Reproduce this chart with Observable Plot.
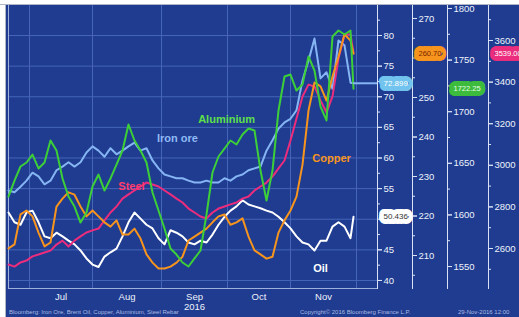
<!DOCTYPE html>
<html>
<head>
<meta charset="utf-8">
<script src="https://cdn.jsdelivr.net/npm/d3@7"></script>
<script src="https://cdn.jsdelivr.net/npm/@observablehq/plot@0.6"></script>
<style>
  html, body { margin: 0; padding: 0; background: #ffffff; width: 519px; height: 317px; overflow: hidden; }
  #wrap { position: relative; width: 519px; height: 317px; background: #1f3c90; overflow: hidden; }
  #wrap svg { position: absolute; left: 0; top: 0; }
  .edge-left { position: absolute; left: 0; top: 0; width: 5px; height: 317px; background: #ffffff; border-right: 1px solid #aeb6c8; }
  .edge-top { position: absolute; left: 0; top: 0; width: 519px; height: 4px; background: #ffffff; border-bottom: 1px solid #aeb6c8; }
  .foot { position: absolute; top: 309px; font: 6px "Liberation Sans", Arial, sans-serif; color: #aebbe0; white-space: nowrap; }
</style>
</head>
<body>
<div id="wrap">
  <div id="chart"></div>
  <div class="edge-left"></div>
  <div class="edge-top"></div>
  <div class="foot" style="left:9px">Bloomberg: Iron Ore, Brent Oil, Copper, Aluminium, Steel Rebar</div>
  <div class="foot" style="left:300px">Copyright© 2016 Bloomberg Finance L.P.</div>
  <div class="foot" style="left:458px">29-Nov-2016 12:00</div>
</div>
<script>
// ---- data (sampled every second trading day from 22 Jun 2016) ----
const tradingDay = [0,2,4,6,8,10,12,14,16,18,20,22,24,26,28,30,32,34,36,38,40,42,44,46,48,50,52,54,56,58,60,62,64,66,68,70,72,74,76,78,80,82,84,86,88,90,92,94,96,98,100,102,104,106,108,110,112,114,115];

const ironOre = [54.7,54.4,55.3,56.3,57.6,57.0,55.7,56.3,58.0,58.6,
  59.3,58.6,59.3,60.9,61.9,61.2,60.2,61.6,60.6,61.2,
  61.9,62.5,61.2,61.6,59.6,58.3,57.3,57.0,56.7,56.7,
  56.3,56.0,56.0,56.3,56.0,56.0,56.7,56.3,57.0,57.3,
  58.0,58.3,58.6,61.2,62.9,64.8,65.8,66.4,67.8,72.7,
  75.9,79.5,73.0,74.0,71.3,79.2,78.4,72.3,72.2];

const oil = [51.1,49.5,49.1,51.1,51.4,49.5,47.2,46.9,47.8,47.2,
  46.5,45.9,44.9,43.6,42.6,42.2,43.9,44.6,45.2,47.2,
  49.5,51.1,50.1,49.1,48.5,46.9,45.9,48.2,47.8,47.2,
  46.2,45.9,46.5,46.2,47.5,49.1,50.4,51.4,52.1,53.1,
  52.4,52.1,51.8,51.4,51.1,50.4,49.5,48.5,47.2,46.2,
  45.9,44.9,46.5,46.5,48.8,49.5,48.8,46.9,50.4];

const copper = [211.8,212.8,220.4,221.4,219.9,215.8,212.3,213.3,222.4,224.4,
  226.0,225.4,222.4,219.9,221.4,219.9,218.4,217.3,218.9,215.3,
  215.3,216.8,214.3,210.3,208.2,206.7,206.7,207.2,208.2,209.7,
  213.8,214.8,215.8,216.8,218.4,219.9,220.4,217.8,218.4,219.4,
  214.8,211.3,210.3,209.2,209.7,215.8,218.9,221.4,224.9,233.0,
  246.7,253.8,252.8,249.2,255.3,260.4,266.0,264.4,261.1];

const aluminium = [1617.8,1633.3,1646.9,1650.8,1658.5,1645.0,1650.8,1672.1,1662.4,1635.3,
  1617.8,1608.1,1592.6,1602.3,1627.5,1639.1,1623.6,1635.3,1648.8,1662.4,
  1687.6,1672.1,1662.4,1650.8,1621.7,1604.3,1586.8,1567.4,1561.6,1553.9,
  1550.0,1557.8,1565.5,1600.4,1641.1,1656.6,1664.3,1672.1,1668.2,1677.9,
  1683.7,1681.8,1643.0,1614.0,1643.0,1701.2,1734.1,1736.0,1720.5,1726.4,
  1753.5,1739.9,1705.0,1691.5,1772.9,1778.7,1774.8,1778.7,1722.25];

const steel = [2523,2513,2533,2542,2562,2571,2581,2590,2619,2638,
  2610,2638,2658,2677,2687,2696,2735,2773,2802,2840,
  2860,2879,2898,2917,2908,2898,2879,2860,2840,2821,
  2792,2773,2754,2744,2773,2792,2802,2812,2821,2840,
  2850,2879,2898,2917,2946,2985,3023,3119,3225,3331,
  3388,3379,3312,3254,3331,3513,3629,3629,3539];

const lastLabels = { iron: "72.899", oil: "50.436", copper: "260.70", aluminium: "1722.25", steel: "3539.00" };

// axis ranges (value at bottom, value at top of plot frame)
const usdDomain = [38.69, 84.9];
const copperDomain = [201.65, 273.29];
const aluminiumDomain = [1528.7, 1802.9];
const steelDomain = [2407.7, 3768.3];

// tick values; labels hidden behind a value box are listed separately
const usdTicks = [40,45,50,55,60,65,70,75,80];
const usdHidden = [50];
const usdMinor = [42.5,47.5,52.5,57.5,62.5,67.5,72.5,77.5,82.5];
const copperTicks = [210,220,230,240,250,260,270];
const copperHidden = [260];
const copperMinor = [205,215,225,235,245,255,265];
const aluminiumTicks = [1550,1600,1650,1700,1750,1800];
const aluminiumHidden = [];
const aluminiumMinor = [1575,1625,1675,1725,1775];
const steelTicks = [2600,2800,3000,3200,3400,3600];
const steelHidden = [];
const steelMinor = [2500,2700,2900,3100,3300,3500,3700];

const monthNames = ["Jul","Aug","Sep\n2016","Oct","Nov"];

const seriesNames = ["Oil","Iron ore","Steel","Copper","Aluminium"];
const seriesColors = ["#ffffff","#86b5f4","#ec2c7c","#f7941d","#3ccf38"];
// in-chart name labels: [trading day, value on US$ axis]
const nameLabels = [
  {name: "Iron ore", day: 56.3, v: 63.2, color: "#8fbaf5"},
  {name: "Aluminium", day: 72.7, v: 66.3, color: "#5ee04a"},
  {name: "Steel", day: 41, v: 55.35, color: "#ff3b6e"},
  {name: "Copper", day: 107.7, v: 59.9, color: "#f7941d"},
  {name: "Oil", day: 104, v: 41.96, color: "#ffffff"}
];

// ---- trading-day calendar ----
const calendar = [];
for (let d = new Date(2016, 5, 22); d <= new Date(2016, 11, 31); d.setDate(d.getDate() + 1)) {
  const w = d.getDay();
  if (w !== 0 && w !== 6) calendar.push(new Date(d));
}
const monthStarts = [];
for (let i = 1; i < calendar.length; i++) if (calendar[i].getMonth() !== calendar[i - 1].getMonth()) monthStarts.push(i);
const monthMids = monthNames.map((_, i) => (monthStarts[i] + monthStarts[i + 1]) / 2);
const monthMap = new Map(monthMids.map((m, i) => [m, monthNames[i]]));

// ---- scale helpers mapping each axis onto the shared US$ y scale ----
const toUsd = dom => d3.scaleLinear().domain(dom).range(usdDomain);
const sCopper = toUsd(copperDomain), sAlu = toUsd(aluminiumDomain), sSteel = toUsd(steelDomain);
const ident = d3.scaleLinear().domain(usdDomain).range(usdDomain);

const series = [
  {name: "Oil", values: oil, s: ident},
  {name: "Iron ore", values: ironOre, s: ident},
  {name: "Steel", values: steel, s: sSteel},
  {name: "Copper", values: copper, s: sCopper},
  {name: "Aluminium", values: aluminium, s: sAlu}
];
const rows = [];
for (const sr of series) tradingDay.forEach((d, i) => rows.push({series: sr.name, day: d, y: sr.s(sr.values[i])}));

const lastDay = tradingDay[tradingDay.length - 1];
const last = arr => arr[arr.length - 1];

const axisColor = "#d9e1f4";
const gridColor = "#4565b8";
const font = "'Liberation Sans', Arial, sans-serif";

function sideAxis(scale, ticks, hidden, minor, dx) {
  return [
    Plot.frame({anchor: "right", stroke: axisColor, dx}),
    Plot.axisY(minor.map(scale), {anchor: "right", dx, tickSize: 2, stroke: axisColor, tickFormat: () => ""}),
    Plot.axisY(ticks.map(scale), {anchor: "right", dx, tickSize: 4, stroke: axisColor, tickFormat: () => ""}),
    Plot.axisY(ticks.filter(t => !hidden.includes(t)).map(scale), {anchor: "right", dx, tickSize: 4, tickPadding: 2,
      stroke: axisColor, fill: "#eef2fb", fontSize: 9.5, tickFormat: d => String(Math.round(scale.invert(d)))})
  ];
}

function valueLabel(value, text, dx, bg, fg, size) {
  return Plot.text([{y: value, t: text}], {
    frameAnchor: "right", y: "y", text: "t", dx, textAnchor: "start",
    fill: fg, stroke: bg, strokeWidth: 10, strokeLinejoin: "round", paintOrder: "stroke",
    fontSize: size, fontFamily: font
  });
}

const chart = Plot.plot({
  width: 519, height: 317,
  marginLeft: 8, marginRight: 142, marginTop: 5, marginBottom: 29,
  style: {background: "transparent", color: "#eef2fb", fontFamily: font, fontSize: "9.5px"},
  x: {domain: [0, 123], axis: null, label: null},
  y: {domain: usdDomain, axis: null, label: null},
  color: {domain: seriesNames, range: seriesColors},
  marks: [
    Plot.gridY(usdTicks, {stroke: gridColor, strokeOpacity: 1}),
    Plot.gridX(monthStarts, {stroke: gridColor, strokeOpacity: 1}),
    Plot.frame({anchor: "left", stroke: "#9fb0dc"}),
    Plot.frame({anchor: "bottom", stroke: "#9fb0dc"}),
    Plot.axisX(monthMids, {anchor: "bottom", label: null, tickSize: 0, tickPadding: 4, fontSize: 9.5, lineHeight: 1.05,
      tickFormat: d => monthMap.get(d)}),
    Plot.line(rows, {x: "day", y: "y", z: "series", stroke: "series", strokeWidth: 2, strokeLinejoin: "round"}),
    Plot.ruleY([last(ironOre)], {x1: lastDay, x2: 123, stroke: "#86b5f4", strokeWidth: 2}),
    Plot.text(nameLabels, {x: "day", y: "v", text: "name", fill: "color", fontWeight: "bold", fontSize: 11, fontFamily: font}),
    ...sideAxis(ident, usdTicks, usdHidden, usdMinor, 0),
    ...sideAxis(sCopper, copperTicks, copperHidden, copperMinor, 35),
    ...sideAxis(sAlu, aluminiumTicks, aluminiumHidden, aluminiumMinor, 70),
    ...sideAxis(sSteel, steelTicks, steelHidden, steelMinor, 111),
    valueLabel(last(ironOre), lastLabels.iron, 6, "#72c4ee", "#ffffff", 8),
    valueLabel(last(oil), lastLabels.oil, 6, "#ffffff", "#333333", 8),
    valueLabel(sCopper(last(copper)), lastLabels.copper, 41, "#f7941d", "#7a2600", 7.5),
    valueLabel(sAlu(last(aluminium)), lastLabels.aluminium, 76, "#3dbb3d", "#e9ffe4", 7.5),
    valueLabel(sSteel(last(steel)), lastLabels.steel, 117, "#ec2c7c", "#ffffff", 7.5)
  ]
});
document.getElementById("chart").appendChild(chart);
</script>
</body>
</html>
